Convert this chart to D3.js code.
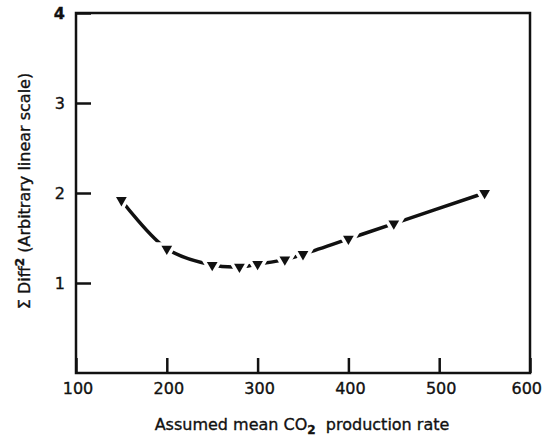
<!DOCTYPE html>
<html lang="en">
<head>
    <meta charset="UTF-8">
    <title>Sum of squared differences vs CO2 rate</title>
    <style>
        body { margin: 0; background: #fff; }
        svg text { font-family: "DejaVu Sans", sans-serif; fill: #111; stroke: #111; stroke-width: 0.35px; }
    </style>
</head>
<body>
<script src='https://d3js.org/d3.v7.min.js' type='text/javascript'></script>
<script>
    var width = 545, height = 441;

    // data
    var rates = [150, 200, 250, 280, 300, 330, 350, 400, 450, 550];
    var diffs = [1.92, 1.38, 1.20, 1.18, 1.21, 1.26, 1.32, 1.49, 1.66, 2.00];
    var xTicks = [100, 200, 300, 400, 500, 600];
    var yTicks = [1, 2, 3, 4];

    var data = rates.map(function (r, i) {
        return {x: r, y: diffs[i]};
    });

    var svg = d3.select('body').append('svg')
        .attr('width', width).attr('height', height);

    var x = d3.scaleLinear().domain([100, 600]).range([76, 530]);
    var y = d3.scaleLinear().domain([0, 4]).range([373, 13]);

    // frame
    svg.append('rect')
        .attr('x', x(100)).attr('y', y(4))
        .attr('width', x(600) - x(100)).attr('height', y(0) - y(4))
        .attr('fill', 'none').attr('stroke', '#111').attr('stroke-width', 2.5);

    // inward ticks
    var xAxis = svg.append('g')
        .attr('transform', 'translate(0,' + y(0) + ')')
        .call(d3.axisTop(x).tickValues(xTicks).tickSize(15).tickFormat(''));
    var yAxis = svg.append('g')
        .attr('transform', 'translate(' + x(100) + ',0)')
        .call(d3.axisRight(y).tickValues(yTicks).tickSize(15).tickFormat(''));
    [xAxis, yAxis].forEach(function (g) {
        g.select('.domain').remove();
        g.selectAll('line').attr('stroke', '#111').attr('stroke-width', 2.5);
    });

    // tick labels (last one kept inside the page edge)
    svg.selectAll('.xlab').data(xTicks).join('text')
        .attr('class', 'xlab')
        .attr('x', function (d) { return d === 600 ? width - 3 : x(d) + 2; })
        .attr('y', 394)
        .attr('text-anchor', function (d) { return d === 600 ? 'end' : 'middle'; })
        .style('font-size', '16px')
        .text(function (d) { return d; });

    svg.selectAll('.ylab').data(yTicks).join('text')
        .attr('class', 'ylab')
        .attr('x', 65)
        .attr('y', function (d) { return y(d) + 6; })
        .attr('text-anchor', 'end')
        .style('font-size', '16px')
        .style('font-weight', function (d) { return d === 4 ? 'bold' : 'normal'; })
        .text(function (d) { return d; });

    // axis titles
    var xt = svg.append('text')
        .attr('x', 302).attr('y', 430)
        .attr('text-anchor', 'middle')
        .style('font-size', '16px');
    xt.append('tspan').text('Assumed mean CO');
    xt.append('tspan').attr('dy', 4).style('font-size', '12px').style('font-weight', 'bold').text('2');
    xt.append('tspan').attr('dy', -4).text('\u00a0 production rate');

    var yt = svg.append('text')
        .attr('transform', 'translate(30,191) rotate(-90)')
        .attr('text-anchor', 'middle')
        .style('font-size', '16px');
    yt.append('tspan').text('\u03a3 Diff');
    yt.append('tspan').attr('dy', -6).style('font-size', '12px').style('font-weight', 'bold').text('2');
    yt.append('tspan').attr('dy', 6).text(' (Arbitrary linear scale)');

    // curve
    var line = d3.line()
        .x(function (d) { return x(d.x); })
        .y(function (d) { return y(d.y); })
        .curve(d3.curveCatmullRom);

    svg.append('path')
        .datum(data)
        .attr('d', line)
        .attr('fill', 'none')
        .attr('stroke', '#111')
        .attr('stroke-width', 3.5);

    // down-pointing triangle markers, with a white halo that breaks the line
    var tri = d3.symbol().type(d3.symbolTriangle).size(50);
    svg.selectAll('.mark').data(data).join('path')
        .attr('class', 'mark')
        .attr('d', tri)
        .attr('transform', function (d) {
            return 'translate(' + x(d.x) + ',' + y(d.y) + ') rotate(180)';
        })
        .attr('fill', '#111')
        .attr('stroke', '#fff')
        .attr('stroke-width', 7)
        .attr('paint-order', 'stroke');
</script>
</body>
</html>
